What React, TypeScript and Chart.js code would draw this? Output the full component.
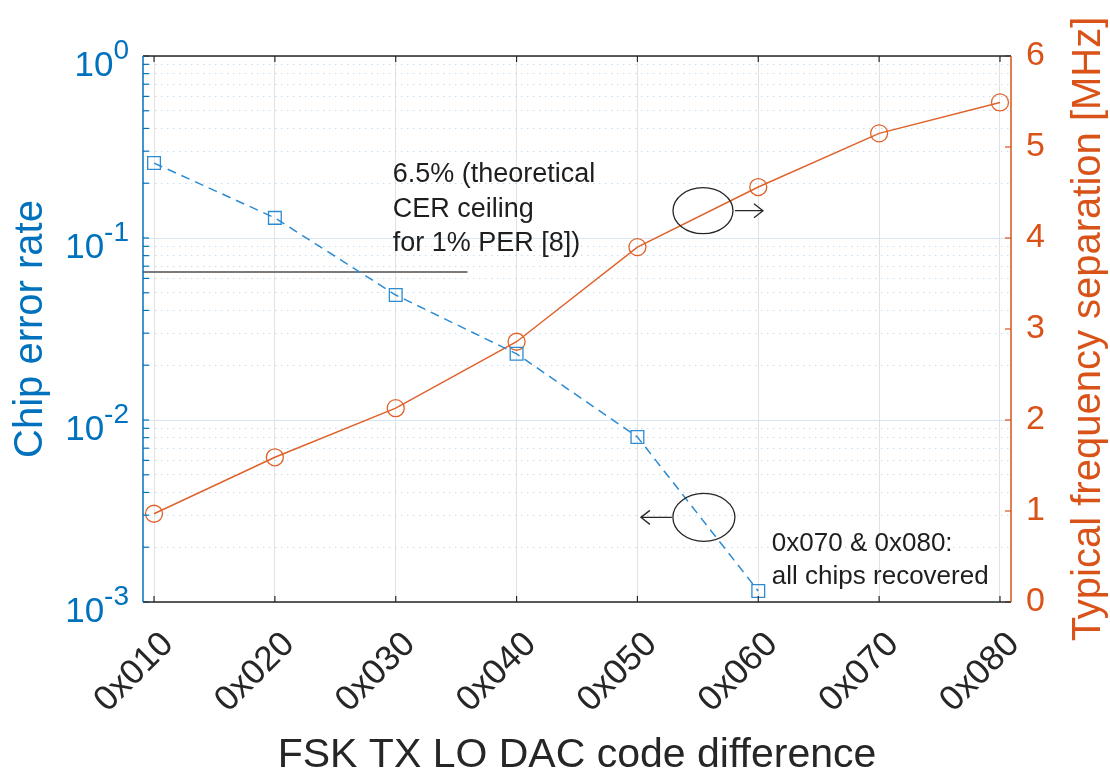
import React, { useEffect, useRef } from 'react';
import { Chart, registerables } from 'chart.js';
Chart.register(...registerables);

// ---- data ----
const codes = [0x010, 0x020, 0x030, 0x040, 0x050, 0x060, 0x070, 0x080];
const cerCodes = [0x010, 0x020, 0x030, 0x040, 0x050, 0x060];
const chipErrorRate = [0.258, 0.129, 0.0486, 0.0231, 0.00807, 0.00115];
const freqSeparation = [0.97, 1.59, 2.13, 2.86, 3.9, 4.56, 5.15, 5.49];
const ceilingCER = 0.065;
const ceilingSpan = [14.54, 57.5];
const decadeExps = [-3, -2, -1, 0];
const rightTicks = [0, 1, 2, 3, 4, 5, 6];
const ceilingNote = ['6.5% (theoretical', 'CER ceiling', 'for 1% PER [8])'];
const recoveredNote = ['0x070 & 0x080:', 'all chips recovered'];
const xTitle = 'FSK TX LO DAC code difference';
const yLeftTitle = 'Chip error rate';
const yRightTitle = 'Typical frequency separation [MHz]';

const FONT = "'Liberation Sans', Arial, Helvetica, sans-serif";
const BLUE_AX = '#0072BD';
const ORANGE_AX = '#D95319';
const BLUE_LINE = '#2C8BD2';
const ORANGE_LINE = '#E0622B';
const DARK = '#262626';

const logTicks: number[] = [];
decadeExps.forEach((e) => {
  if (e === 0) { logTicks.push(1); return; }
  for (let m = 1; m <= 9; m++) logTicks.push(m * Math.pow(10, e));
});
const isDecade = (v: number) => Math.abs(Math.log10(v) - Math.round(Math.log10(v))) < 1e-6;

const drawArrow = (ctx: CanvasRenderingContext2D, x1: number, x2: number, y: number) => {
  const dir = Math.sign(x2 - x1);
  ctx.beginPath();
  ctx.moveTo(x1, y);
  ctx.lineTo(x2, y);
  ctx.moveTo(x2 - dir * 9, y - 7);
  ctx.lineTo(x2, y);
  ctx.lineTo(x2 - dir * 9, y + 7);
  ctx.stroke();
};

const customPlugin = {
  id: 'customAxes',
  afterDraw(chart: any) {
    const { ctx, chartArea: a, scales } = chart;
    const xs = scales.x, yl = scales.yL, yr = scales.yR;
    ctx.save();
    // inward ticks
    ctx.lineWidth = 1.2;
    ctx.strokeStyle = BLUE_AX;
    logTicks.forEach((v) => {
      const y = yl.getPixelForValue(v);
      ctx.beginPath(); ctx.moveTo(a.left, y); ctx.lineTo(a.left + 6, y); ctx.stroke();
    });
    ctx.strokeStyle = ORANGE_AX;
    rightTicks.forEach((v) => {
      const y = yr.getPixelForValue(v);
      ctx.beginPath(); ctx.moveTo(a.right, y); ctx.lineTo(a.right - 6, y); ctx.stroke();
    });
    ctx.strokeStyle = DARK;
    codes.forEach((v) => {
      const x = xs.getPixelForValue(v);
      ctx.beginPath(); ctx.moveTo(x, a.bottom); ctx.lineTo(x, a.bottom - 6); ctx.stroke();
      ctx.beginPath(); ctx.moveTo(x, a.top); ctx.lineTo(x, a.top + 6); ctx.stroke();
    });
    // axis lines
    ctx.lineWidth = 1.5;
    ctx.strokeStyle = DARK;
    ctx.beginPath(); ctx.moveTo(a.left, a.bottom); ctx.lineTo(a.right, a.bottom); ctx.stroke();
    ctx.beginPath(); ctx.moveTo(a.left, a.top); ctx.lineTo(a.right, a.top); ctx.stroke();
    ctx.strokeStyle = BLUE_AX;
    ctx.beginPath(); ctx.moveTo(a.left, a.top); ctx.lineTo(a.left, a.bottom); ctx.stroke();
    ctx.strokeStyle = ORANGE_AX;
    ctx.beginPath(); ctx.moveTo(a.right, a.top); ctx.lineTo(a.right, a.bottom); ctx.stroke();

    // left tick labels 10^e
    ctx.fillStyle = BLUE_AX;
    ctx.textBaseline = 'alphabetic';
    decadeExps.forEach((e) => {
      const y = yl.getPixelForValue(Math.pow(10, e));
      const expStr = String(e);
      ctx.font = `28px ${FONT}`;
      const ew = ctx.measureText(expStr).width;
      const rightEdge = a.left - 14;
      ctx.textAlign = 'left';
      ctx.fillText(expStr, rightEdge - ew, y + 3);
      ctx.font = `35px ${FONT}`;
      ctx.textAlign = 'right';
      ctx.fillText('10', rightEdge - ew, y + 20);
    });

    // axis titles
    const cy = (a.top + a.bottom) / 2;
    ctx.font = `40px ${FONT}`;
    ctx.textAlign = 'center';
    ctx.fillStyle = BLUE_AX;
    ctx.save(); ctx.translate(42, cy); ctx.rotate(-Math.PI / 2); ctx.fillText(yLeftTitle, 0, 0); ctx.restore();
    ctx.fillStyle = ORANGE_AX;
    ctx.save(); ctx.translate(a.right + 89, cy); ctx.rotate(-Math.PI / 2); ctx.fillText(yRightTitle, 0, 0); ctx.restore();
    ctx.fillStyle = DARK;
    ctx.font = `41px ${FONT}`;
    ctx.fillText(xTitle, (a.left + a.right) / 2, 767);

    // annotations
    ctx.fillStyle = '#1e1e1e';
    ctx.textAlign = 'left';
    ctx.font = `27px ${FONT}`;
    const n1x = xs.getPixelForValue(47.6);
    const n1y = yl.getPixelForValue(0.203);
    ceilingNote.forEach((t, i) => ctx.fillText(t, n1x, n1y + i * 34.5));
    ctx.font = `26px ${FONT}`;
    const n2x = xs.getPixelForValue(97.8);
    const n2y = yl.getPixelForValue(0.0019);
    recoveredNote.forEach((t, i) => ctx.fillText(t, n2x, n2y + i * 33));

    ctx.strokeStyle = DARK;
    ctx.lineWidth = 1.3;
    const e1x = xs.getPixelForValue(88.68), e1y = yr.getPixelForValue(4.3);
    ctx.beginPath(); ctx.ellipse(e1x, e1y, 30, 23, 0, 0, Math.PI * 2); ctx.stroke();
    drawArrow(ctx, e1x + 32, e1x + 60, e1y);
    const e2x = xs.getPixelForValue(88.8), e2y = yr.getPixelForValue(0.93);
    ctx.beginPath(); ctx.ellipse(e2x, e2y, 31, 24, 0, 0, Math.PI * 2); ctx.stroke();
    drawArrow(ctx, e2x - 32, e2x - 63, e2y);
    ctx.restore();
  },
};

export default function App() {
  const ref = useRef<HTMLCanvasElement>(null);
  useEffect(() => {
    if (!ref.current) return;
    const chart = new Chart(ref.current, {
      type: 'line',
      data: {
        datasets: [
          {
            label: 'Chip error rate',
            data: cerCodes.map((c, i) => ({ x: c, y: chipErrorRate[i] })),
            yAxisID: 'yL',
            borderColor: BLUE_LINE,
            borderWidth: 1.5,
            borderDash: [9, 6],
            pointStyle: 'rect',
            pointRadius: 9,
            pointBorderWidth: 1.3,
            pointBorderColor: BLUE_LINE,
            pointBackgroundColor: 'rgba(0,0,0,0)',
            fill: false,
            tension: 0,
          },
          {
            label: 'Typical frequency separation',
            data: codes.map((c, i) => ({ x: c, y: freqSeparation[i] })),
            yAxisID: 'yR',
            borderColor: ORANGE_LINE,
            borderWidth: 1.5,
            pointStyle: 'circle',
            pointRadius: 8.5,
            pointBorderWidth: 1.3,
            pointBorderColor: ORANGE_LINE,
            pointBackgroundColor: 'rgba(0,0,0,0)',
            fill: false,
            tension: 0,
          },
          {
            label: 'CER ceiling',
            data: ceilingSpan.map((x) => ({ x, y: ceilingCER })),
            yAxisID: 'yL',
            borderColor: '#7a7a7a',
            borderWidth: 2,
            pointRadius: 0,
            fill: false,
          },
        ],
      },
      options: {
        responsive: false,
        animation: false,
        events: [],
        layout: { padding: { top: 56, left: 0, right: 0, bottom: 0 } },
        plugins: { legend: { display: false }, tooltip: { enabled: false } },
        scales: {
          x: {
            type: 'linear',
            min: 14.54,
            max: 129.46,
            afterBuildTicks: (s: any) => { s.ticks = codes.map((v) => ({ value: v })); },
            afterFit: (s: any) => { s.height = 172; },
            ticks: {
              autoSkip: false,
              minRotation: 45,
              maxRotation: 45,
              labelOffset: 14,
              padding: 22,
              font: { size: 35, family: FONT },
              color: DARK,
              callback: (v: any) => '0x' + Number(v).toString(16).padStart(3, '0'),
            },
            grid: { color: '#e2e2e2', lineWidth: 1, drawTicks: false },
            border: { display: false },
          },
          yL: {
            type: 'logarithmic',
            position: 'left',
            min: 1e-3,
            max: 1,
            afterBuildTicks: (s: any) => { s.ticks = logTicks.map((v) => ({ value: v, major: isDecade(v) })); },
            afterFit: (s: any) => { s.width = 143; },
            ticks: { display: false },
            grid: {
              drawTicks: false,
              lineWidth: 1,
              color: (c: any) => (c.tick && isDecade(c.tick.value) ? '#d6e6f3' : '#c4dcef'),
            },
            border: {
              display: false,
              dash: (c: any) => (c.tick && isDecade(c.tick.value) ? [] : [1.5, 4.5]),
            },
          },
          yR: {
            type: 'linear',
            position: 'right',
            min: 0,
            max: 6,
            afterBuildTicks: (s: any) => { s.ticks = rightTicks.map((v) => ({ value: v })); },
            afterFit: (s: any) => { s.width = 99; },
            ticks: { padding: 15, font: { size: 34, family: FONT }, color: ORANGE_AX },
            grid: { display: false, drawTicks: false },
            border: { display: false },
          },
        },
      },
      plugins: [customPlugin],
    } as any);
    return () => chart.destroy();
  }, []);
  return (
    <div style={{ position: 'absolute', left: 0, top: 0, width: 1110, height: 774, background: '#fff' }}>
      <canvas ref={ref} width={1110} height={774} style={{ width: 1110, height: 774 }} />
    </div>
  );
}
